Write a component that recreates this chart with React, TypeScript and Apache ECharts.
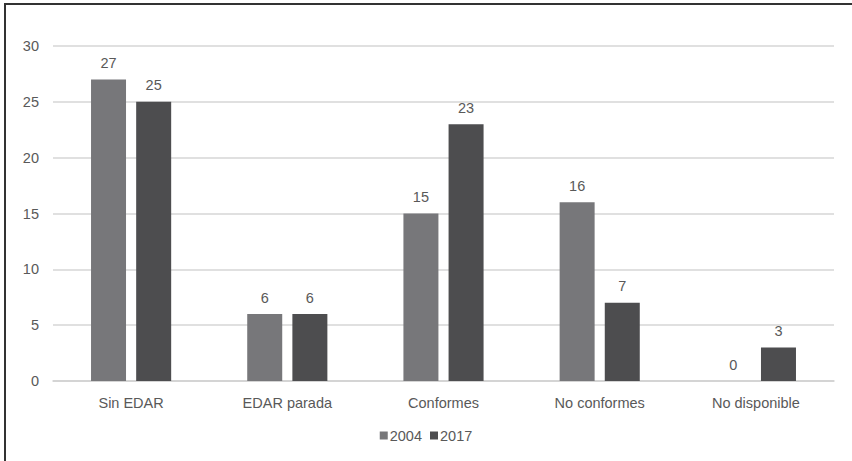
import React, { useEffect, useRef } from "react";
import * as echarts from "echarts";

const categories = ["Sin EDAR", "EDAR parada", "Conformes", "No conformes", "No disponible"];
const series2004 = [27, 6, 15, 16, 0];
const series2017 = [25, 6, 23, 7, 3];
const yTicks = { min: 0, max: 30, interval: 5 };

const FONT = "'Liberation Sans Narrow', 'Liberation Sans', Arial, sans-serif";
const TXT = "#595959";
const FS = 14.5;

export default function App() {
  const ref = useRef<HTMLDivElement>(null);
  useEffect(() => {
    document.body.style.margin = "0";
    const chart = echarts.init(ref.current!, undefined, { renderer: "svg" });
    const label = {
      show: true,
      position: "top" as const,
      distance: 9,
      color: TXT,
      fontSize: FS,
      fontFamily: FONT,
    };
    chart.setOption({
      animation: false,
      textStyle: { fontFamily: FONT },
      grid: { left: 53, right: 18, top: 46, bottom: 80, containLabel: false },
      legend: {
        bottom: 13,
        left: "center",
        itemWidth: 8,
        itemHeight: 8,
        itemGap: 8,
        icon: "rect",
        textStyle: { color: TXT, fontSize: FS, fontFamily: FONT, padding: [0, 0, 0, -3] },
        data: ["2004", "2017"],
      },
      xAxis: {
        type: "category",
        data: categories,
        axisLine: { lineStyle: { color: "#d0d0d0", width: 1.5 } },
        axisTick: { show: false },
        axisLabel: { color: TXT, fontSize: FS, fontFamily: FONT, margin: 14 },
      },
      yAxis: {
        type: "value",
        min: yTicks.min,
        max: yTicks.max,
        interval: yTicks.interval,
        axisLine: { show: false },
        axisTick: { show: false },
        axisLabel: { color: TXT, fontSize: FS, fontFamily: FONT, margin: 14 },
        splitLine: { lineStyle: { color: "#d6d6d6", width: 1.5 } },
      },
      series: [
        {
          name: "2004",
          type: "bar",
          data: series2004,
          barWidth: 35,
          barGap: "29%",
          itemStyle: { color: "#77777a" },
          label,
        },
        {
          name: "2017",
          type: "bar",
          data: series2017,
          barWidth: 35,
          itemStyle: { color: "#4d4d4f" },
          label,
        },
      ],
    });
    return () => chart.dispose();
  }, []);
  return (
    <div style={{ position: "relative", width: 852, height: 461, background: "#fff" }}>
      <div
        style={{
          position: "absolute",
          left: 4,
          top: 3,
          width: 860,
          height: 470,
          border: "2px solid #333",
          boxSizing: "border-box",
        }}
      />
      <div ref={ref} style={{ position: "absolute", left: 0, top: 0, width: 852, height: 461 }} />
    </div>
  );
}
